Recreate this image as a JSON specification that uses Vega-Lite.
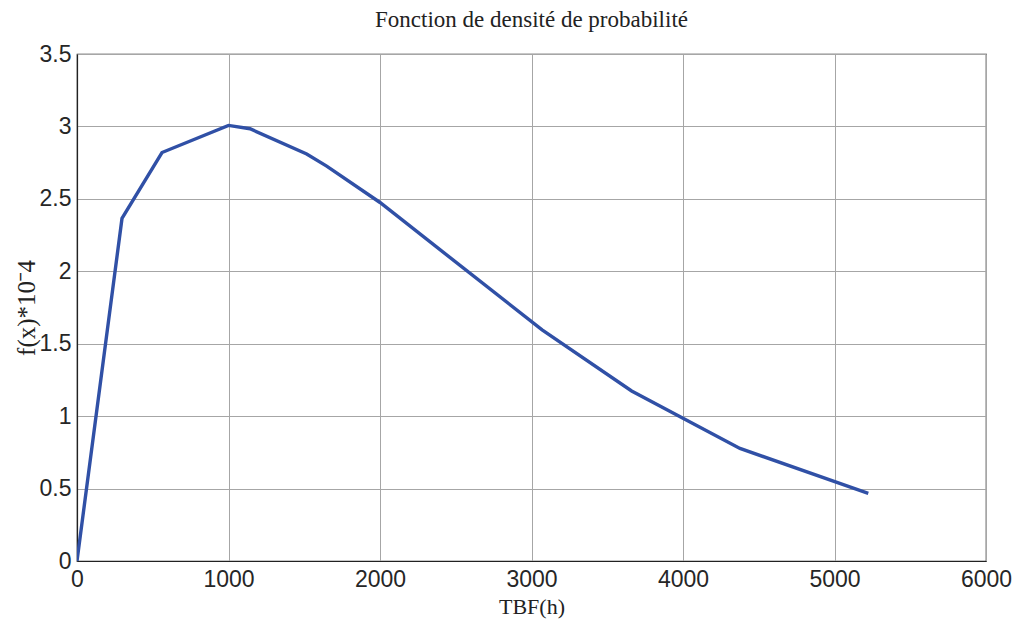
{
  "$schema": "https://vega.github.io/schema/vega-lite/v6.json",
  "width": 909,
  "height": 507,
  "autosize": "none",
  "padding": {"left": 77, "top": 54, "right": 29, "bottom": 62},
  "background": "white",
  "title": {
    "text": "Fonction de densité de probabilité",
    "font": "Liberation Serif",
    "fontSize": 23,
    "fontWeight": "normal",
    "color": "#222222",
    "anchor": "middle",
    "offset": 11
  },
  "config": {
    "view": {"stroke": "#222222", "strokeWidth": 1.2},
    "axis": {
      "labelFont": "Liberation Sans",
      "labelFontSize": 23,
      "labelColor": "#262626",
      "titleFont": "Liberation Serif",
      "titleFontSize": 22,
      "titleFontWeight": "normal",
      "titleColor": "#222222",
      "gridColor": "#a6a6a6",
      "gridWidth": 1,
      "gridOpacity": 1,
      "domainColor": "#222222",
      "domainWidth": 1.2,
      "ticks": false
    }
  },
  "data": {
    "values": [
      {"t": 0, "f": 0},
      {"t": 297, "f": 2.365},
      {"t": 561, "f": 2.82},
      {"t": 1000, "f": 3.007},
      {"t": 1142, "f": 2.984},
      {"t": 1516, "f": 2.81},
      {"t": 1648, "f": 2.726},
      {"t": 2000, "f": 2.475},
      {"t": 3070, "f": 1.595},
      {"t": 3661, "f": 1.174},
      {"t": 4376, "f": 0.777},
      {"t": 5223, "f": 0.467}
    ]
  },
  "mark": {"type": "line", "color": "#3050a6", "strokeWidth": 3.4, "clip": true},
  "encoding": {
    "x": {
      "field": "t",
      "type": "quantitative",
      "scale": {"domain": [0, 6000], "nice": false},
      "axis": {
        "title": "TBF(h)",
        "format": "d",
        "values": [0, 1000, 2000, 3000, 4000, 5000, 6000],
        "labelPadding": 7,
        "titlePadding": 5,
        "labelFlush": false
      }
    },
    "y": {
      "field": "f",
      "type": "quantitative",
      "scale": {"domain": [0, 3.5], "nice": false},
      "axis": {
        "title": "f(x)*10ˉ4",
        "titleFontSize": 25,
        "format": "~g",
        "values": [0, 0.5, 1, 1.5, 2, 2.5, 3, 3.5],
        "labelPadding": 6,
        "titlePadding": 0,
        "labelFlush": false
      }
    }
  }
}
